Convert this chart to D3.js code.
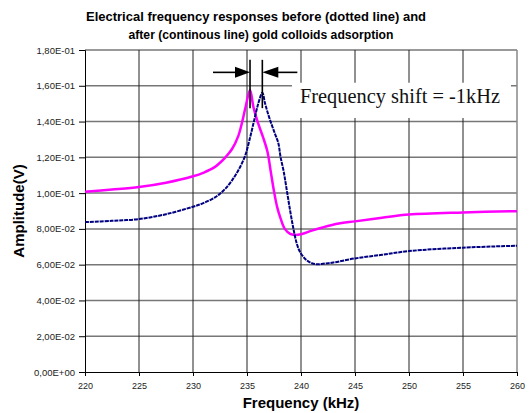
<!DOCTYPE html>
<html>
<head>
<meta charset="utf-8">
<script src="https://cdn.jsdelivr.net/npm/d3@7"></script>
<style>
  html, body { margin: 0; padding: 0; background: #fff; }
  svg { display: block; }
</style>
</head>
<body>
<svg id="chart" width="529" height="413"></svg>
<script>
// ---------- data ----------
const titleLines = [
  "Electrical frequency responses before (dotted line) and",
  "after (continous line) gold colloids adsorption"
];
const xTicks = [220, 225, 230, 235, 240, 245, 250, 255, 260];
const yTicks = [0, 0.02, 0.04, 0.06, 0.08, 0.10, 0.12, 0.14, 0.16, 0.18];
const yTickLabels = ["0,00E+00","2,00E-02","4,00E-02","6,00E-02","8,00E-02",
                     "1,00E-01","1,20E-01","1,40E-01","1,60E-01","1,80E-01"];
const xLabel = "Frequency (kHz)";
const yLabel = "Amplitude(V)";
const annotationText = "Frequency shift = -1kHz";
const peakAfter = 235.28;   // kHz
const peakBefore = 236.42;  // kHz

// after adsorption (continuous, magenta)
const afterFreq = [220, 222.5, 225, 227.5, 230, 231, 232, 232.5, 233, 233.6, 234.2, 234.6, 234.9, 235.28,
  235.6, 236.0, 236.5, 236.9, 237.2, 237.5, 237.8, 238.1, 238.5, 239.0, 239.4, 240.0, 241.0,
  242.0, 243.5, 245, 247.5, 250, 255, 260];
const afterAmp = [0.1008, 0.1020, 0.1034, 0.1058, 0.1094, 0.1115, 0.1145, 0.1170, 0.1200, 0.1245, 0.1320,
  0.1410, 0.1490, 0.1576, 0.1480, 0.1395, 0.1310, 0.1230, 0.1120, 0.1010, 0.0920, 0.0860, 0.0800,
  0.0772, 0.0766, 0.0770, 0.0790, 0.0808, 0.0830, 0.0842, 0.0862, 0.0880, 0.0892, 0.0899];

// before adsorption (dotted, navy)
const beforeFreq = [220, 222.5, 225, 227.5, 230, 231, 232, 232.5, 233, 233.6, 234.2, 234.8, 235.2,
  235.6, 236.05, 236.42, 236.67, 236.98, 237.3, 237.6, 237.9, 238.1, 238.4, 238.7, 239.0, 239.3,
  239.6, 239.9, 240.5, 241.0, 241.5, 242.3, 243, 245, 247.5, 250, 255, 260];
const beforeAmp = [0.0838, 0.0845, 0.0855, 0.0882, 0.0924, 0.0945, 0.0975, 0.0997, 0.1025, 0.1070,
  0.1128, 0.1204, 0.1290, 0.1390, 0.1502, 0.1561, 0.1502, 0.1437, 0.1380, 0.1330, 0.1280, 0.1204,
  0.1120, 0.1010, 0.0900, 0.0800, 0.0720, 0.0672, 0.0626, 0.0608, 0.0602, 0.0607, 0.0612, 0.0635,
  0.0655, 0.0676, 0.0695, 0.0706];

// ---------- layout ----------
const svg = d3.select("#chart");
const pLeft = 85, pRight = 517, pTop = 50, pBottom = 372;
const sans = "'Liberation Sans', Arial, Helvetica, sans-serif";
const serif = "'Liberation Serif', 'Times New Roman', serif";

const x = d3.scaleLinear().domain([220, 260]).range([pLeft, pRight]);
const y = d3.scaleLinear().domain([0, 0.18]).range([pBottom, pTop]);

// horizontal gridlines
svg.append("g").selectAll("line").data(yTicks.filter(d => d > 0)).join("line")
  .attr("x1", pLeft).attr("x2", pRight)
  .attr("y1", d => y(d)).attr("y2", d => y(d))
  .attr("stroke", "#777").attr("stroke-width", 1.5);

// vertical gridlines
svg.append("g").selectAll("line").data(xTicks.filter(d => d > 220)).join("line")
  .attr("x1", d => x(d)).attr("x2", d => x(d))
  .attr("y1", pTop).attr("y2", pBottom)
  .attr("stroke", d => d === 260 ? "#888" : "#222").attr("stroke-width", d => d === 260 ? 1.5 : 1);

// axes
const yAxis = d3.axisLeft(y).tickValues(yTicks).tickSize(6).tickPadding(4)
  .tickFormat((d, i) => yTickLabels[i]);
const gy = svg.append("g").attr("transform", `translate(${pLeft},0)`).call(yAxis);
gy.select(".domain").attr("stroke", "#000");
gy.selectAll(".tick line").attr("stroke", "#000");
gy.selectAll("text").style("font-size", "9.5px").style("font-family", sans).attr("fill", "#222");

const xAxis = d3.axisBottom(x).tickValues(xTicks).tickSize(4).tickPadding(7)
  .tickFormat(d3.format("d"));
const gx = svg.append("g").attr("transform", `translate(0,${pBottom})`).call(xAxis);
gx.select(".domain").attr("stroke", "#000");
gx.selectAll(".tick line").attr("stroke", "#000");
gx.selectAll("text").style("font-size", "9px").style("font-family", sans).attr("fill", "#222");

// curves
const lineGen = d3.line().x(d => x(d[0])).y(d => y(d[1])).curve(d3.curveCatmullRom.alpha(0.5));
const afterData = afterFreq.map((f, i) => [f, afterAmp[i]]);
const beforeData = beforeFreq.map((f, i) => [f, beforeAmp[i]]);

svg.append("path").datum(afterData).attr("d", lineGen)
  .attr("fill", "none").attr("stroke", "#ff00ff").attr("stroke-width", 2.5)
  .attr("stroke-linejoin", "round");

svg.append("path").datum(beforeData).attr("d", lineGen)
  .attr("fill", "none").attr("stroke", "#000080").attr("stroke-width", 2)
  .attr("stroke-dasharray", "4,0.9");

// annotation box
const boxY1 = y(0.1617), boxY2 = y(0.1420);
svg.append("rect")
  .attr("x", x(240.55) - 15).attr("y", boxY1)
  .attr("width", 219).attr("height", boxY2 - boxY1)
  .attr("fill", "#fff");
svg.append("text").attr("x", x(240.55) - 7).attr("y", y(0.1505))
  .style("font-family", serif).style("font-size", "20.4px").attr("fill", "#111")
  .text(annotationText);

// shift markers
const arrowY = y(0.1675);
const markTop = y(0.1745), markBot = y(0.1475);
[peakAfter, peakBefore].forEach(f => {
  svg.append("line").attr("x1", x(f)).attr("x2", x(f))
    .attr("y1", markTop).attr("y2", markBot)
    .attr("stroke", "#000").attr("stroke-width", 1.6);
});
// left arrow pointing right to peakAfter
svg.append("line").attr("x1", x(peakAfter) - 37).attr("x2", x(peakAfter) - 10)
  .attr("y1", arrowY).attr("y2", arrowY).attr("stroke", "#000").attr("stroke-width", 1.6);
svg.append("path")
  .attr("d", `M${x(peakAfter)},${arrowY} L${x(peakAfter) - 15},${arrowY - 5.5} L${x(peakAfter) - 15},${arrowY + 5.5} Z`)
  .attr("fill", "#000");
// right arrow pointing left to peakBefore
svg.append("line").attr("x1", x(peakBefore) + 10).attr("x2", x(peakBefore) + 35)
  .attr("y1", arrowY).attr("y2", arrowY).attr("stroke", "#000").attr("stroke-width", 1.6);
svg.append("path")
  .attr("d", `M${x(peakBefore)},${arrowY} L${x(peakBefore) + 16},${arrowY - 5.5} L${x(peakBefore) + 16},${arrowY + 5.5} Z`)
  .attr("fill", "#000");

// title
svg.append("text").attr("x", 256).attr("y", 21).attr("text-anchor", "middle")
  .style("font-family", sans).style("font-size", "13.5px").style("font-weight", "bold").attr("fill", "#000")
  .attr("textLength", 340).attr("lengthAdjust", "spacingAndGlyphs")
  .text(titleLines[0]);
svg.append("text").attr("x", 261).attr("y", 39).attr("text-anchor", "middle")
  .style("font-family", sans).style("font-size", "13.5px").style("font-weight", "bold").attr("fill", "#000")
  .attr("textLength", 265).attr("lengthAdjust", "spacingAndGlyphs")
  .text(titleLines[1]);

// axis titles
svg.append("text").attr("x", (pLeft + pRight) / 2).attr("y", 408).attr("text-anchor", "middle")
  .style("font-family", sans).style("font-size", "15px").style("font-weight", "bold").attr("fill", "#000")
  .text(xLabel);
svg.append("text").attr("transform", `translate(24,${(pTop + pBottom) / 2}) rotate(-90)`)
  .attr("text-anchor", "middle")
  .style("font-family", sans).style("font-size", "15px").style("font-weight", "bold").attr("fill", "#000")
  .text(yLabel);
</script>
</body>
</html>
